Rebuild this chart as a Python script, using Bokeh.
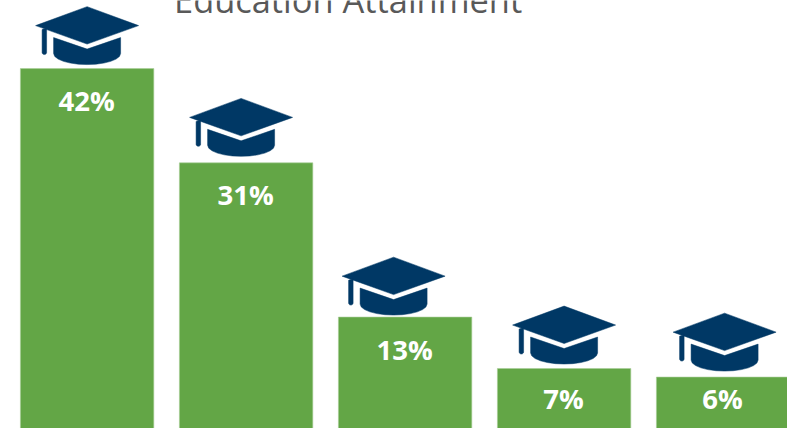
import math
from bokeh.plotting import figure
from bokeh.models import ColumnDataSource, Range1d
from bokeh.core.properties import value
from bokeh.embed import file_html
from bokeh.resources import INLINE

title_text = "Education Attainment"
labels = ["42%", "31%", "13%", "7%", "6%"]
values = [42, 31, 13, 7, 6]
positions = [0, 1, 2, 3, 4]
label_offset = [32, 32, 32, 30, 21]
cap_dx = [0, -5, -11.5, 0, 1.5]
cap_rise = [62, 64.5, 60, 62.5, 64]

W, H = 787, 428
SX = 159.0
SY = 8.58
x_range = Range1d(-86.6 / SX, (W - 86.6) / SX)
y_range = Range1d(0, 428.5 / SY)

p = figure(width=W, height=H, x_range=x_range, y_range=y_range, output_backend="svg",
           toolbar_location=None, min_border=0, outline_line_color=None,
           margin=(0, 0, 0, 0), background_fill_color="white")
p.xaxis.visible = False
p.yaxis.visible = False
p.grid.visible = False

GREEN = "#63A646"
NAVY = "#003865"

p.vbar(x=positions, top=values, bottom=0, width=133.4 / SX, fill_color=GREEN,
       line_color="#A9CD98", line_width=1, line_alpha=0.6)

# cap icon outline, pixel offsets from cap apex
board = [(0, 0), (51.5, 19), (0, 37.5), (-51.5, 19)]
base = [(-33.5, 31), (0, 42.5), (33.5, 31), (33.5, 47)]
for i in range(1, 12):
    t = i / 12 * math.pi
    base.append((33.5 * math.cos(t), 47 + 11 * math.sin(t)))
base += [(-33.5, 47)]
tassel = [(-45, 23), (-40.5, 21.5), (-40.5, 46)]
for i in range(1, 6):
    t = i / 6 * math.pi
    tassel.append((-42.75 + 2.25 * math.cos(t), 46 + 2 * math.sin(t)))
tassel += [(-45, 46)]

xs, ys = [], []
for pos, val, dx, rise in zip(positions, values, cap_dx, cap_rise):
    for shape in (board, base, tassel):
        xs.append([pos + (dx + sx) / SX for sx, _ in shape])
        ys.append([val + (rise - sy) / SY for _, sy in shape])
p.patches(xs, ys, fill_color=NAVY, line_color=NAVY, line_width=0.5)

src = ColumnDataSource(dict(x=positions, y=values, t=labels, off=label_offset))
p.text("x", "y", text="t", source=src, y_offset="off", x_offset=-0.5, text_align="center", text_baseline="middle",
       text_color="white", text_font=value("Open Sans"), text_font_style="bold", text_font_size="27.5px")

p.text([(348 - 87) / SX], [428.5 / SY], text=[title_text], y_offset=[-1], text_align="center",
       text_baseline="alphabetic", text_color="#595959", text_font=value("Open Sans"),
       text_font_size="34.4px")

open("out.html", "w").write(file_html(p, INLINE))
